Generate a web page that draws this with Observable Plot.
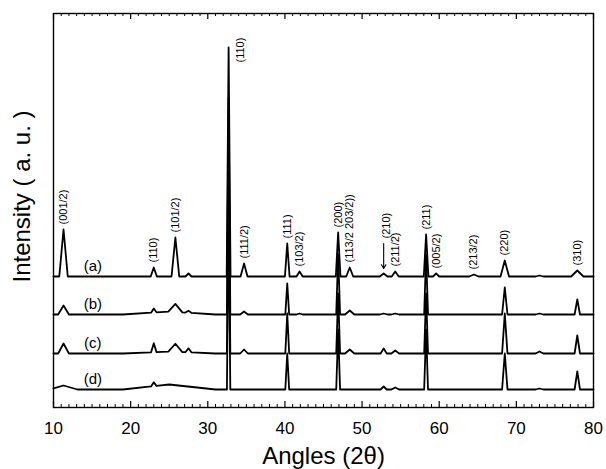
<!DOCTYPE html>
<html><head><meta charset="utf-8">
<script src="https://cdn.jsdelivr.net/npm/d3@7"></script>
<script src="https://cdn.jsdelivr.net/npm/@observablehq/plot@0.6"></script>
<style>body{margin:0;background:#fff;} svg{font-family:"Liberation Sans",Arial,Helvetica,sans-serif;}</style>
</head><body><div id="chart"></div>
<script>
// ---- data ----
const samples = ["(a)", "(b)", "(c)", "(d)"];
const baselines = [131, 93, 54, 18]; // vertical offsets of the stacked patterns (a.u.)
const peakAngles = [11.3, 23.0, 25.0, 25.8, 27.5, 32.7, 34.7, 40.3, 41.9, 46.9, 48.4, 52.8, 54.3, 58.3, 59.6, 64.5, 68.5, 73.0, 77.9];
const hkl = ["(001/2)", "(110)", "", "(101/2)", "", "(110)", "(111/2)", "(111)", "(103/2)", "(200)", "(113/2 203/2))", "(210)", "(211/2)", "(211)", "(005/2)", "(213/2)", "(220)", "", "(310)"];
const heightsA = [47, 9, 0, 39, 3, 229, 13, 33, 5, 44, 9, 3, 5, 42, 3, 2, 16, 1, 6];
const heightsB = [9, 4, 3, 8, 2, 217, 3, 31, 1, 60, 4, 1, 1, 60, 0, 0, 27, 1, 15];
const heightsC = [10, 9, 2, 8, 4, 200, 4, 40, 0, 60, 4, 5, 3, 60, 0, 0, 40, 2, 18];
const heightsD = [4, 4, 5, 0, 0, 180, 0, 36, 0, 60, 0, 3, 2, 60, 0, 0, 36, 1, 18];
const widthsA = [0.55, 0.4, 6, 0.5, 0.4, 0.25, 0.45, 0.3, 0.4, 0.3, 0.45, 0.5, 0.45, 0.3, 0.4, 0.6, 0.55, 0.5, 0.8];
const widthsB = [0.7, 0.35, 6, 0.9, 0.4, 0.22, 0.5, 0.25, 0.4, 0.25, 0.6, 0.5, 0.5, 0.25, 0.4, 0.6, 0.35, 0.5, 0.35];
const widthsC = [0.7, 0.35, 6, 0.9, 0.4, 0.22, 0.5, 0.25, 0.4, 0.25, 0.6, 0.4, 0.5, 0.25, 0.4, 0.6, 0.35, 0.5, 0.35];
const widthsD = [1.8, 0.35, 6, 0.9, 0.4, 0.22, 0.5, 0.25, 0.4, 0.25, 0.6, 0.4, 0.5, 0.25, 0.4, 0.6, 0.35, 0.5, 0.35];
const majorTicks = [10, 20, 30, 40, 50, 60, 70, 80];
const minorTicks = d3.range(11, 80).filter(v => v % 10 !== 0);

// ---- build line tables from the peak lists ----
function profile(name, heights, widths, base) {
  const xs = new Set([10, 80]);
  peakAngles.forEach((p, i) => { if (heights[i] > 0) { xs.add(p - widths[i]); xs.add(p); xs.add(p + widths[i]); } });
  return [...xs].filter(x => x >= 10 && x <= 80).sort((a, b) => a - b).map(x => ({
    sample: name, angle: x,
    intensity: base + d3.sum(peakAngles, (p, i) => heights[i] > 0 ? Math.max(0, heights[i] * (1 - Math.abs(x - p) / widths[i])) : 0)
  }));
}
const H = [heightsA, heightsB, heightsC, heightsD];
const W = [widthsA, widthsB, widthsC, widthsD];
const lines = samples.flatMap((s, k) => profile(s, H[k], W[k], baselines[k]));

const labels = hkl.map((t, i) => ({t, x: peakAngles[i], y: baselines[0] + heightsA[i]}))
  .filter((d, i) => d.t && i !== 5 && i !== 11);
const mainLabel = [{t: hkl[5], x: peakAngles[5], y: baselines[0] + heightsA[5]}];
const arrowLabel = [{t: hkl[11], x: peakAngles[11], y: baselines[0] + heightsA[11]}];
const sampleLabels = samples.map((s, k) => ({s, x: 15.1, y: baselines[k]}));

const mt = 13, mb = 62, ml = 53, mr = 13, height = 469;
const ph = height - mt - mb;
const font = "Liberation Sans, Arial, Helvetica, sans-serif";

const chart = Plot.plot({
  width: 606, height,
  marginTop: mt, marginBottom: mb, marginLeft: ml, marginRight: mr,
  style: {fontFamily: font, background: "white", color: "black"},
  x: {domain: [10, 80]},
  y: {domain: [0, ph], axis: null},
  marks: [
    Plot.line(lines, {x: "angle", y: "intensity", z: "sample", stroke: "black", strokeWidth: 1.8}),
    Plot.tickX(majorTicks, {x: d => d, insetTop: ph - 6, stroke: "black", strokeWidth: 1.2}),
    Plot.tickX(minorTicks, {x: d => d, insetTop: ph - 3, stroke: "black", strokeWidth: 1}),
    Plot.tickX(majorTicks, {x: d => d, insetBottom: ph - 6, stroke: "black", strokeWidth: 1.2}),
    Plot.tickX(minorTicks, {x: d => d, insetBottom: ph - 3, stroke: "black", strokeWidth: 1}),
    Plot.frame({stroke: "black", strokeWidth: 1.4}),
    Plot.text(labels, {x: "x", y: d => d.y + 5, text: "t", rotate: -90, textAnchor: "start", fontSize: 11, fill: "black"}),
    Plot.text(mainLabel, {x: "x", y: d => d.y - 15, text: "t", rotate: -90, textAnchor: "start", dx: 12, fontSize: 11, fill: "black"}),
    Plot.arrow(arrowLabel, {x: "x", y1: d => d.y + 30, y2: d => d.y + 5, stroke: "black", strokeWidth: 1.1, headLength: 6}),
    Plot.text(arrowLabel, {x: "x", y: d => d.y + 35, text: "t", rotate: -90, textAnchor: "start", dx: 3, fontSize: 11, fill: "black"}),
    Plot.text(sampleLabels, {x: "x", y: d => d.y + 10, text: "s", fontSize: 15, fill: "black"}),
    Plot.axisX(majorTicks, {tickSize: 0, tickPadding: 14, fontSize: 17, label: null, tickFormat: d => d}),
    Plot.text(["Angles (2θ)"], {frameAnchor: "bottom", dy: 56, lineAnchor: "bottom", textAnchor: "middle", fontSize: 24, fill: "black"}),
    Plot.text(["Intensity ( a. u. )"], {frameAnchor: "left", rotate: -90, dx: -31, dy: -14, textAnchor: "middle", fontSize: 24, fill: "black"})
  ]
});
document.getElementById("chart").appendChild(chart);
</script>
</body></html>
